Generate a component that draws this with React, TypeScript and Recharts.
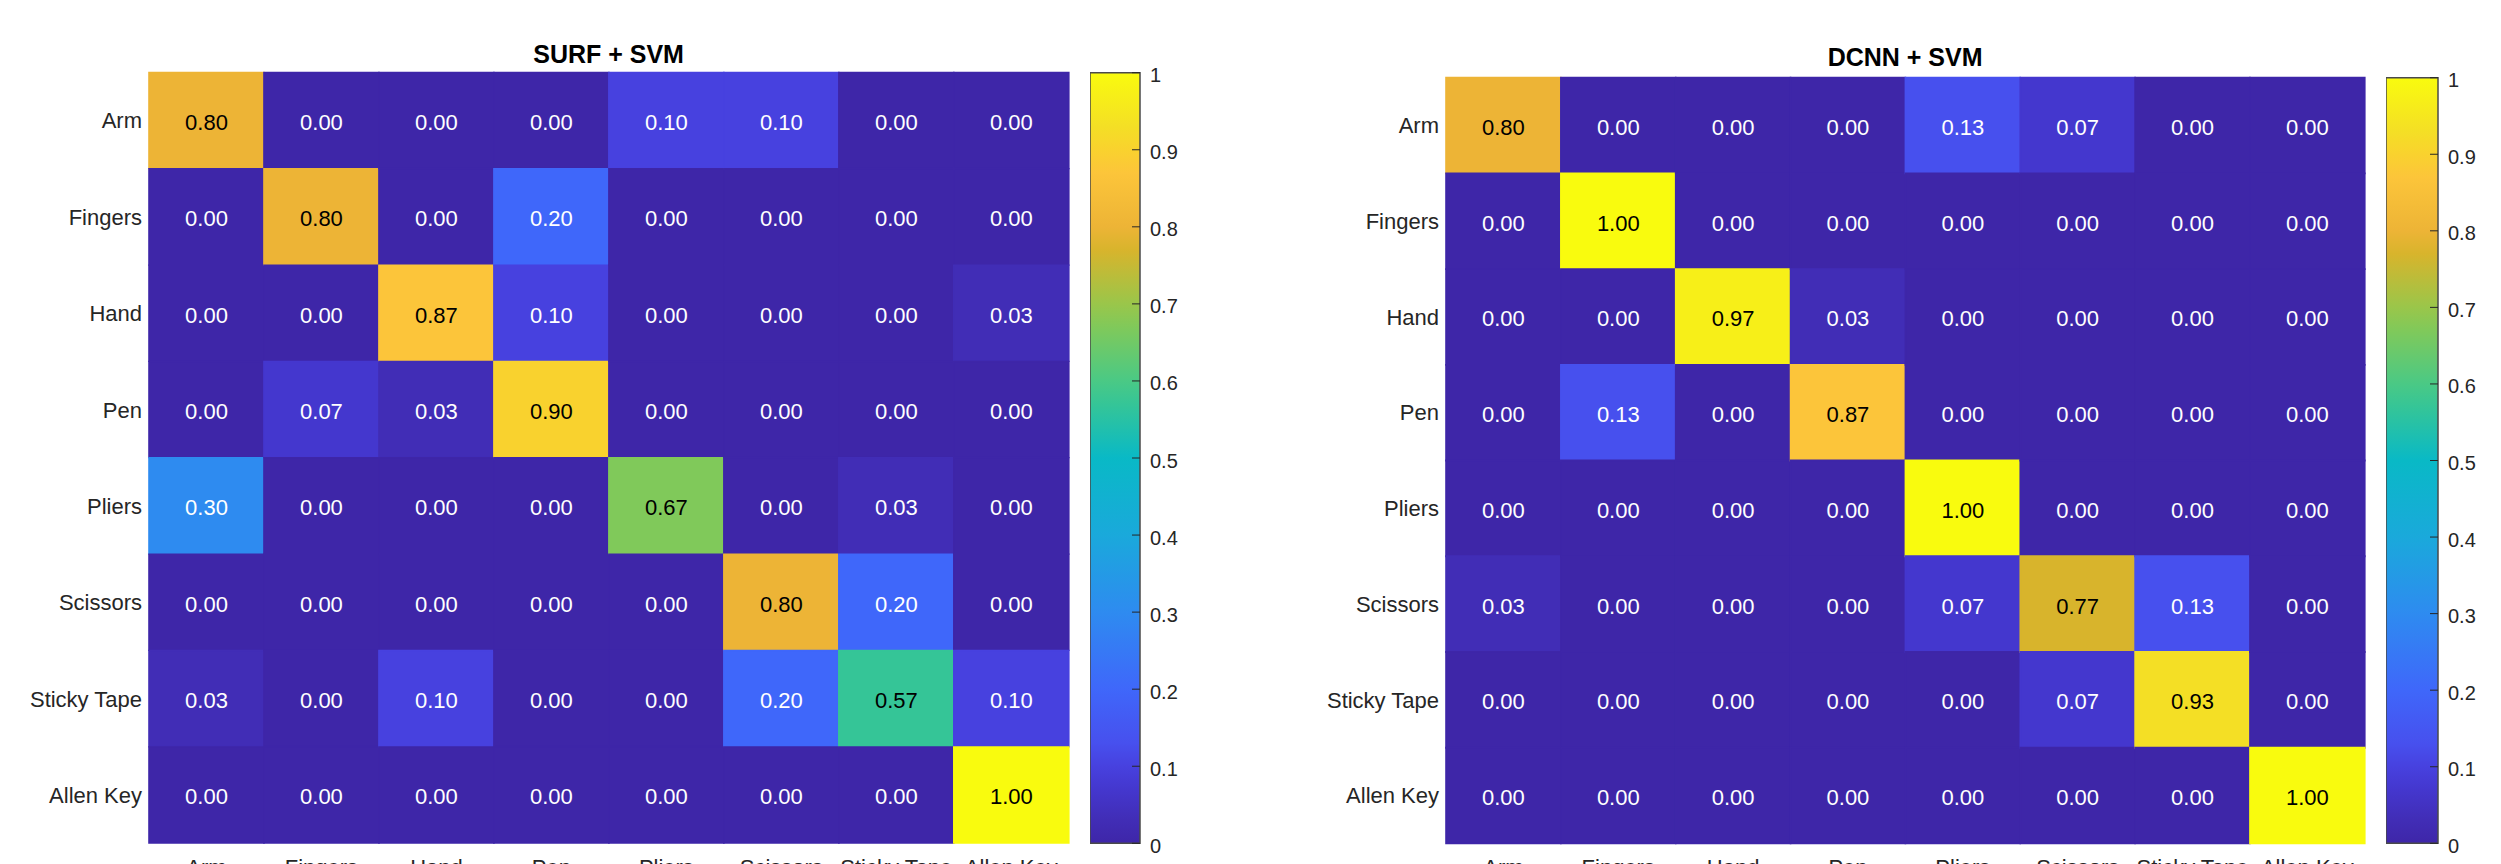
import React from "react"
import { Bar, BarChart, Cell, LabelList, ReferenceArea, XAxis, YAxis } from "recharts"

// class labels (rows = true class, columns = predicted class)
const classes = ["Arm", "Fingers", "Hand", "Pen", "Pliers", "Scissors", "Sticky Tape", "Allen Key"]

const surfSvm = [
  [0.8, 0.0, 0.0, 0.0, 0.1, 0.1, 0.0, 0.0],
  [0.0, 0.8, 0.0, 0.2, 0.0, 0.0, 0.0, 0.0],
  [0.0, 0.0, 0.87, 0.1, 0.0, 0.0, 0.0, 0.03],
  [0.0, 0.07, 0.03, 0.9, 0.0, 0.0, 0.0, 0.0],
  [0.3, 0.0, 0.0, 0.0, 0.67, 0.0, 0.03, 0.0],
  [0.0, 0.0, 0.0, 0.0, 0.0, 0.8, 0.2, 0.0],
  [0.03, 0.0, 0.1, 0.0, 0.0, 0.2, 0.57, 0.1],
  [0.0, 0.0, 0.0, 0.0, 0.0, 0.0, 0.0, 1.0],
]

const dcnnSvm = [
  [0.8, 0.0, 0.0, 0.0, 0.13, 0.07, 0.0, 0.0],
  [0.0, 1.0, 0.0, 0.0, 0.0, 0.0, 0.0, 0.0],
  [0.0, 0.0, 0.97, 0.03, 0.0, 0.0, 0.0, 0.0],
  [0.0, 0.13, 0.0, 0.87, 0.0, 0.0, 0.0, 0.0],
  [0.0, 0.0, 0.0, 0.0, 1.0, 0.0, 0.0, 0.0],
  [0.03, 0.0, 0.0, 0.0, 0.07, 0.77, 0.13, 0.0],
  [0.0, 0.0, 0.0, 0.0, 0.0, 0.07, 0.93, 0.0],
  [0.0, 0.0, 0.0, 0.0, 0.0, 0.0, 0.0, 1.0],
]

const colorbarTicks = [0, 0.1, 0.2, 0.3, 0.4, 0.5, 0.6, 0.7, 0.8, 0.9, 1]
const colorbarRange = [{ name: "scale", max: 1 }]

const FONT = '"Liberation Sans", Arial, Helvetica, sans-serif'
const TEXT = "#262626"
const BOX = "#4a4a4a"

// parula-like colormap anchors
const PARULA: [number, string][] = [
  [0.0, "#3E26A8"],
  [0.03, "#412DB6"],
  [0.07, "#4437CE"],
  [0.1, "#4741DF"],
  [0.13, "#4750EE"],
  [0.2, "#3F67FA"],
  [0.3, "#2E8BF0"],
  [0.4, "#1AA9DB"],
  [0.5, "#09B9C6"],
  [0.57, "#35C597"],
  [0.6, "#4AC985"],
  [0.67, "#80C95A"],
  [0.7, "#9AC64A"],
  [0.77, "#D8B42C"],
  [0.8, "#EDB436"],
  [0.87, "#FCC53A"],
  [0.9, "#F9D22E"],
  [0.93, "#F4DF25"],
  [1.0, "#F9FB0E"],
]

const hexToRgb = (h: string) => [1, 3, 5].map((i) => parseInt(h.slice(i, i + 2), 16))

function parula(v: number) {
  for (let i = 1; i < PARULA.length; i++) {
    const [v0, c0] = PARULA[i - 1]
    const [v1, c1] = PARULA[i]
    if (v <= v1 + 1e-9) {
      const t = Math.max(0, Math.min(1, (v - v0) / (v1 - v0)))
      const a = hexToRgb(c0)
      const b = hexToRgb(c1)
      const rgb = a.map((x, k) => Math.round(x + (b[k] - x) * t))
      return `rgb(${rgb[0]},${rgb[1]},${rgb[2]})`
    }
  }
  return PARULA[PARULA.length - 1][1]
}

const PANELS = [
  {
    id: "surf",
    title: "SURF + SVM",
    matrix: surfSvm,
    plotLeft: 148.7,
    plotRight: 1068.5,
    plotTop: 72.5,
    cbLeft: 1090,
    cbRight: 1140,
    cbTop: 72.7,
    titleTop: 41.5,
  },
  {
    id: "dcnn",
    title: "DCNN + SVM",
    matrix: dcnnSvm,
    plotLeft: 1445.7,
    plotRight: 2364.5,
    plotTop: 77.5,
    cbLeft: 2385.7,
    cbRight: 2437.7,
    cbTop: 77.7,
    titleTop: 45,
  },
]

const PAGE_H = 864
const PLOT_BOTTOM = 843.3
const Y_AXIS_W = 149
const CB_AXIS_W = 70

const CellLabel = (props: any) => {
  const vb = props.viewBox || props
  const v = Number(props.value)
  return (
    <text
      x={vb.x + vb.width / 2}
      y={vb.y + vb.height / 2}
      dy={2}
      textAnchor="middle"
      dominantBaseline="central"
      fontSize={22}
      fontFamily={FONT}
      fill={v >= 0.5 ? "#000000" : "#ffffff"}
    >
      {v.toFixed(2)}
    </text>
  )
}

const ColorbarTick = (props: any) => {
  const { x, y, payload } = props
  return (
    <g>
      <line x1={x - 18} x2={x - 10} y1={y} y2={y} stroke={TEXT} strokeWidth={1} />
      <text x={x} y={y} dy={2.5} dominantBaseline="central" fontSize={20} fontFamily={FONT} fill={TEXT}>
        {payload.value}
      </text>
    </g>
  )
}

function Panel({ id, title, matrix, plotLeft, plotRight, plotTop, cbLeft, cbRight, cbTop, titleTop }: any) {
  const rows = classes.map((name, r) => {
    const row: Record<string, any> = { name }
    classes.forEach((_, c) => {
      row[`span${c}`] = 1
      row[`val${c}`] = matrix[r][c]
    })
    return row
  })

  const chartW = plotRight - plotLeft + Y_AXIS_W + 2
  const cbW = cbRight - cbLeft + CB_AXIS_W

  return (
    <>
      <div
        style={{
          position: "absolute",
          left: plotLeft,
          width: plotRight - plotLeft,
          top: titleTop,
          textAlign: "center",
          fontSize: 25,
          lineHeight: "25px",
          fontWeight: "bold",
          color: "#000",
          whiteSpace: "nowrap",
        }}
      >
        {title}
      </div>

      {/* confusion matrix */}
      <div style={{ position: "absolute", left: plotLeft - Y_AXIS_W, top: 0 }}>
        <BarChart
          width={chartW}
          height={PAGE_H}
          data={rows}
          layout="vertical"
          barCategoryGap={0}
          barGap={0}
          margin={{ top: plotTop, right: 2, bottom: 0, left: 0 }}
        >
          <XAxis
            type="number"
            domain={[0, classes.length]}
            ticks={classes.map((_, i) => i + 0.5)}
            tickFormatter={(v) => classes[Math.floor(v)]}
            interval={0}
            height={PAGE_H - PLOT_BOTTOM}
            tickSize={0}
            tickMargin={16}
            axisLine={false}
            tickLine={false}
            tick={{ fontSize: 22, fill: TEXT, fontFamily: FONT }}
          />
          <YAxis
            type="category"
            dataKey="name"
            width={Y_AXIS_W}
            interval={0}
            tickSize={0}
            tickMargin={7}
            axisLine={false}
            tickLine={false}
            tick={{ fontSize: 22, fill: TEXT, fontFamily: FONT }}
          />
          {classes.map((_, c) => (
            <Bar key={c} dataKey={`span${c}`} stackId="cells" isAnimationActive={false}>
              {rows.map((row, r) => (
                <Cell key={r} fill={parula(row[`val${c}`])} stroke={parula(row[`val${c}`])} strokeWidth={1.6} />
              ))}
              <LabelList dataKey={`val${c}`} content={CellLabel} />
            </Bar>
          ))}
          <ReferenceArea fill="none" stroke={BOX} strokeWidth={1.5} ifOverflow="visible" zIndex={1000} />
        </BarChart>
      </div>

      {/* colorbar */}
      <div style={{ position: "absolute", left: cbLeft, top: 0 }}>
        <BarChart
          width={cbW}
          height={PAGE_H}
          data={colorbarRange}
          barCategoryGap={0}
          margin={{ top: cbTop, right: 0, bottom: PAGE_H - PLOT_BOTTOM, left: 0 }}
        >
          <defs>
            <linearGradient id={`parula-${id}`} x1="0" y1="1" x2="0" y2="0">
              {PARULA.map(([v, c]) => (
                <stop key={v} offset={v} stopColor={c} />
              ))}
            </linearGradient>
          </defs>
          <XAxis type="category" dataKey="name" hide />
          <YAxis
            orientation="right"
            type="number"
            domain={[0, 1]}
            ticks={colorbarTicks}
            interval={0}
            width={CB_AXIS_W}
            tickSize={0}
            tickMargin={10}
            axisLine={false}
            tickLine={false}
            tick={<ColorbarTick />}
          />
          <Bar
            dataKey="max"
            fill={`url(#parula-${id})`}
            stroke={BOX}
            strokeWidth={1.5}
            isAnimationActive={false}
          />
        </BarChart>
      </div>
    </>
  )
}

export default function App() {
  return (
    <div
      style={{
        position: "absolute",
        left: 0,
        top: 0,
        width: 2501,
        height: PAGE_H,
        overflow: "hidden",
        background: "#ffffff",
        fontFamily: FONT,
      }}
    >
      {PANELS.map((p) => (
        <Panel key={p.id} {...p} />
      ))}
    </div>
  )
}
